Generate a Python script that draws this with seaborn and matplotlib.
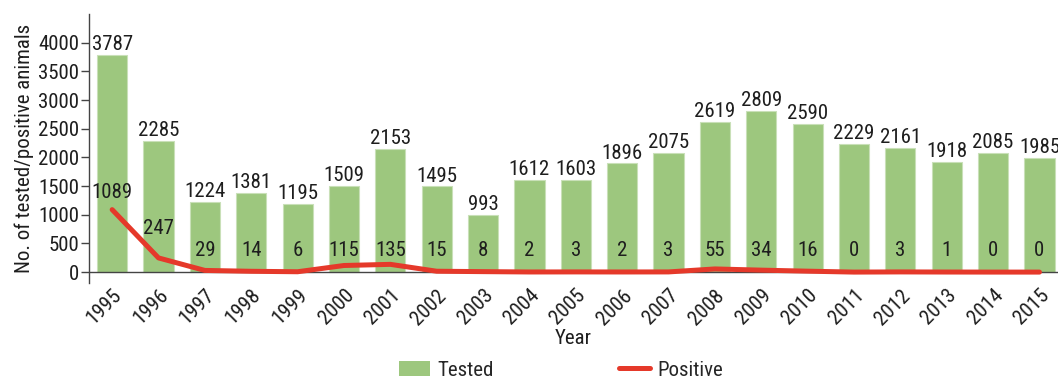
import matplotlib
matplotlib.use("Agg")
import matplotlib.pyplot as plt
import seaborn as sns
import pandas as pd
from matplotlib.patches import Patch
from matplotlib.lines import Line2D

years = [str(y) for y in range(1995, 2016)]
tested = [3787, 2285, 1224, 1381, 1195, 1509, 2153, 1495, 993, 1612, 1603,
          1896, 2075, 2619, 2809, 2590, 2229, 2161, 1918, 2085, 1985]
positive = [1089, 247, 29, 14, 6, 115, 135, 15, 8, 2, 3,
            2, 3, 55, 34, 16, 0, 3, 1, 0, 0]

sns.set_theme(style="white")
plt.rcParams["font.family"] = ["Roboto Condensed", "Archivo Narrow", "DejaVu Sans"]
plt.rcParams["font.weight"] = "normal"
plt.rcParams["axes.labelweight"] = "normal"
plt.rcParams["font.size"] = 14

green = "#9dc77e"
red = "#e5392a"
ink = "#1e1e1e"
FS = 15
W = "normal"

df = pd.DataFrame({"Year": years, "Tested": tested, "Positive": positive})

fig = plt.figure(figsize=(10.58, 3.80), dpi=100)
ax = fig.add_axes([0.0841, 0.2553, 0.9159, 0.7077])

sns.barplot(data=df, x="Year", y="Tested", color=green, width=0.65,
            edgecolor="#c9e0b8", linewidth=0.8, saturation=1, ax=ax)
ax.plot(range(len(years)), positive, color=red, lw=3.6,
        solid_capstyle="round", solid_joinstyle="round", zorder=4)

ax.axhline(0, color="#444444", lw=1.0, zorder=3)

# value labels for tested counts
for i, v in enumerate(tested):
    ax.text(i, v + 15, str(v), ha="center", va="bottom", fontsize=FS,
            color=ink, fontweight=W)

# value labels for positive counts, lifted clear of the line
for i, v in enumerate(positive):
    if i == 0:
        y = v + 300
    elif i == 1:
        y = v + 520
    else:
        y = 380
    ax.text(i, y, str(v), ha="center", va="center", fontsize=FS, color=ink,
            fontweight=W, zorder=5)

ax.set_ylim(-190, 4500)
ax.set_xlim(-0.5, 20.4)
ax.set_yticks(range(0, 4001, 500))
ax.tick_params(axis="y", direction="out", length=6, width=1, color="#444444",
               labelsize=FS, labelcolor=ink, pad=1, left=True)
ax.tick_params(axis="x", length=0, labelsize=FS, labelcolor=ink, pad=2)
plt.setp(ax.get_xticklabels(), rotation=45, ha="right", rotation_mode="anchor")

for s in ["top", "right", "bottom"]:
    ax.spines[s].set_visible(False)
ax.spines["left"].set_color("#444444")
ax.spines["left"].set_linewidth(1.0)

ax.set_xlabel("Year", fontsize=FS, color=ink, fontweight=W)
ax.xaxis.set_label_coords(0.5, -0.17)
ax.set_ylabel("No. of tested/positive animals", fontsize=FS, color=ink,
              fontweight=W, labelpad=3)

handles = [Patch(facecolor=green, edgecolor="none"),
           Line2D([0], [0], color=red, lw=3.6, solid_capstyle="round")]
fig.legend(handles, ["Tested", "Positive"], loc="center",
           bbox_to_anchor=(0.53, 0.026), ncol=2, frameon=False,
           prop={"size": FS, "weight": W},
           columnspacing=6.0, handlelength=1.5, handleheight=0.75,
           handletextpad=0.35, borderpad=0)

fig.savefig("out.png", dpi=100)
